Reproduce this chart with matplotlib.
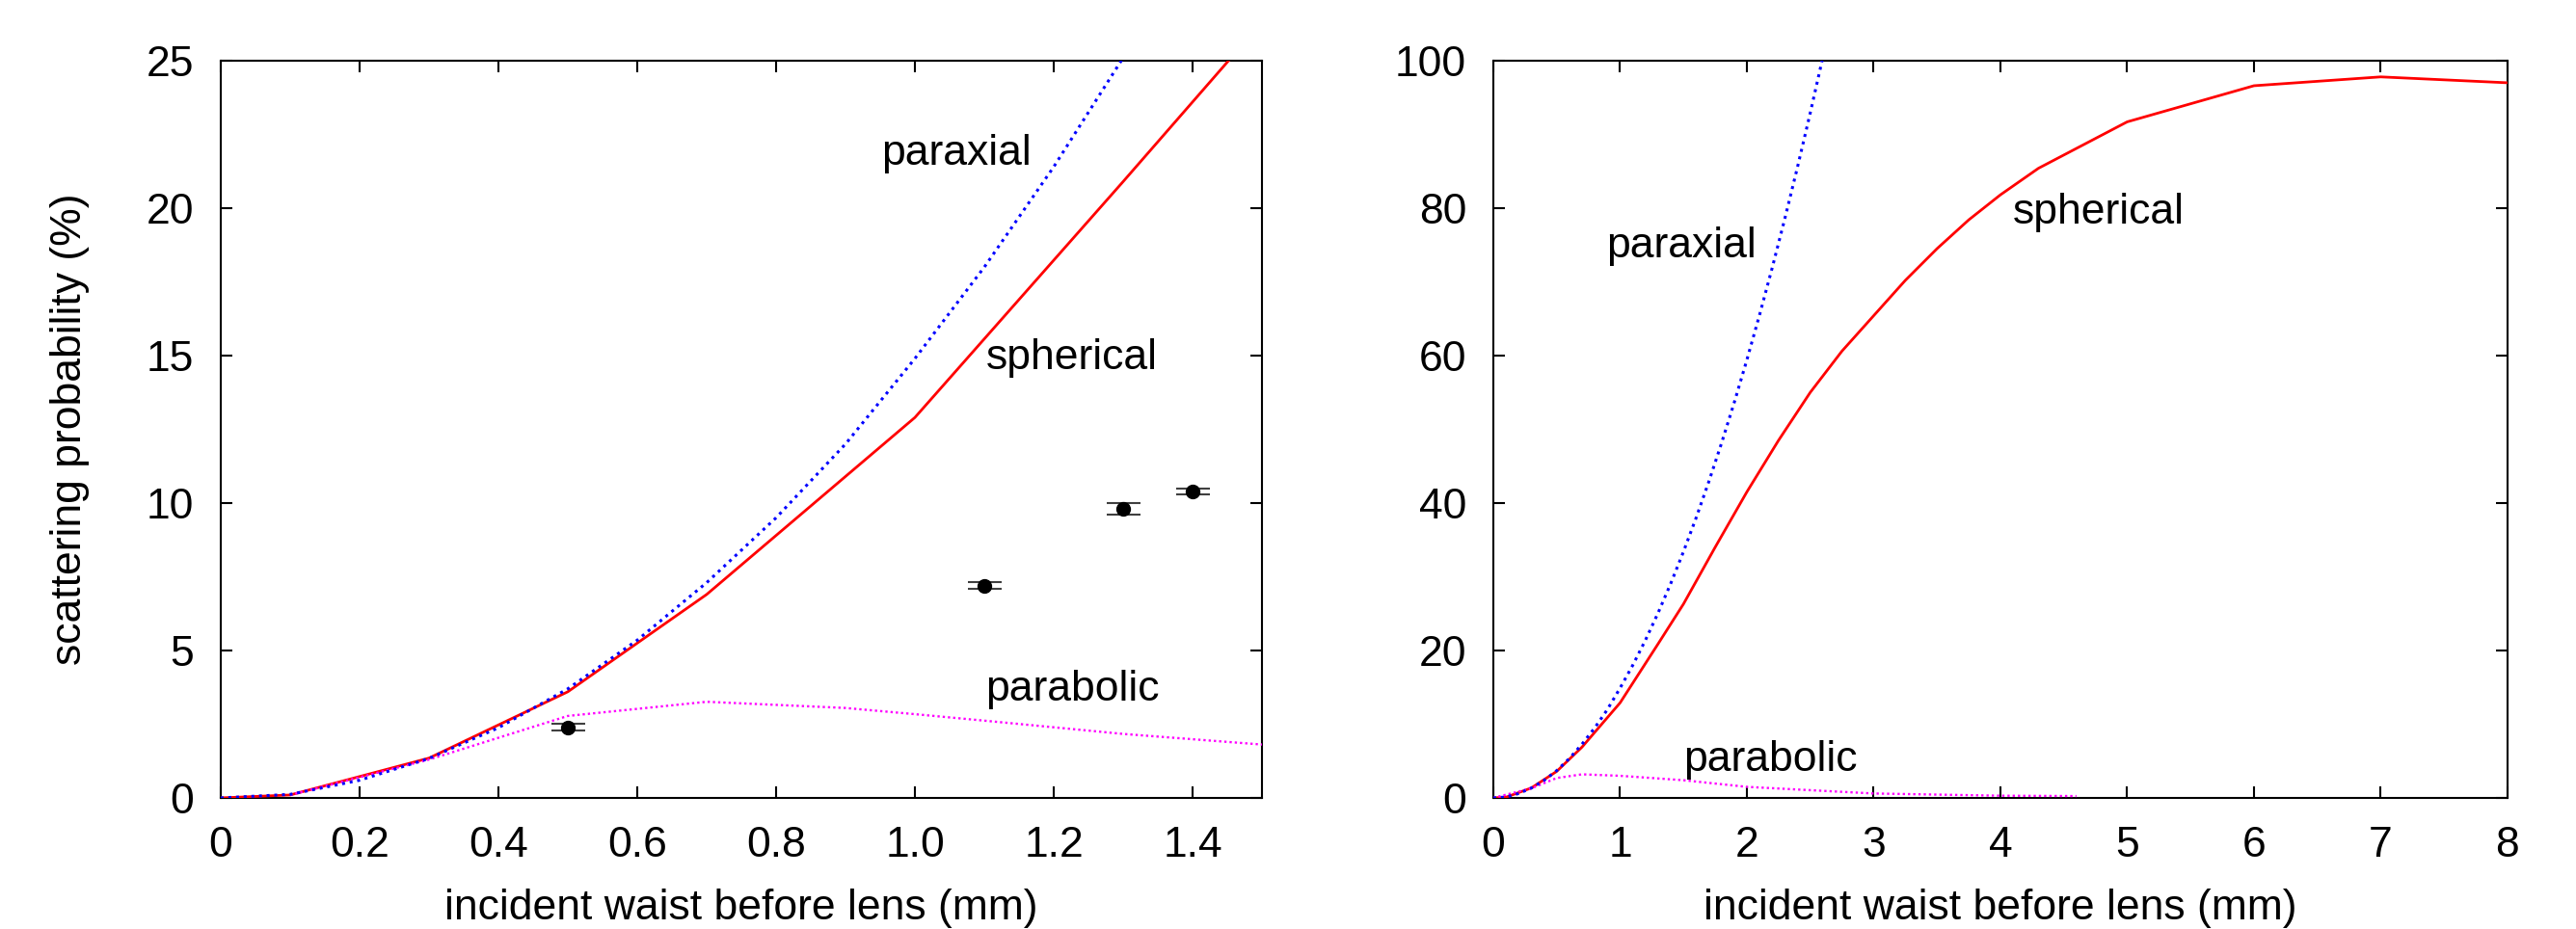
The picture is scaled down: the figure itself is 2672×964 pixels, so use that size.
import matplotlib
matplotlib.use('Agg')
import matplotlib.pyplot as plt

plt.rcParams['font.family'] = ['Liberation Sans', 'DejaVu Sans']
plt.rcParams['font.size'] = 32

# spherical lens (solid red)
sph_x = [0, 0.1, 0.3, 0.5, 0.7, 1.0, 1.3, 1.5, 1.75, 2.0, 2.25, 2.5, 2.75, 3.0,
         3.25, 3.5, 3.75, 4.0, 4.3, 5, 6, 7, 8]
sph_y = [0, 0.1, 1.35, 3.6, 6.9, 12.9, 20.9, 26.3, 34.0, 41.5, 48.5, 55.0, 60.6, 65.4,
         70.2, 74.5, 78.4, 81.8, 85.4, 91.7, 96.6, 97.8, 97.0]

# paraxial (blue dotted)
par_x = [0, 0.1, 0.2, 0.3, 0.4, 0.5, 0.6, 0.7, 0.8, 0.9, 1.0, 1.1, 1.2, 1.3,
         1.4, 1.5, 1.6, 1.7, 1.8, 1.9, 2.0, 2.1, 2.2, 2.3, 2.4, 2.5, 2.6, 2.7]
par_y = [0, 0.12, 0.6, 1.34, 2.38, 3.7, 5.35, 7.3, 9.5, 12.0, 14.9, 18.0, 21.4, 25.1,
         29.1, 33.4, 38.0, 42.9, 48.1, 53.6, 59.4, 65.5, 71.9, 78.6, 85.6, 92.9, 100.5, 108.3]

# parabolic mirror (magenta dotted), left and right panel
pab_x = [0.1, 0.3, 0.5, 0.7, 0.9, 1.0, 1.1, 1.3, 1.5]
pab_y = [0.1, 1.3, 2.78, 3.26, 3.05, 2.84, 2.62, 2.17, 1.81]
pab_x_wide = [0, 0.3, 0.5, 0.7, 1.0, 1.5, 2.0, 2.5, 3.0, 3.5, 4.0, 4.6]
pab_y_wide = [0, 1.3, 2.7, 3.2, 3.0, 2.4, 1.5, 1.05, 0.6, 0.45, 0.3, 0.25]

# measurements
meas_x = [0.5, 1.1, 1.3, 1.4]
meas_y = [2.4, 7.2, 9.8, 10.4]
meas_err = [0.1, 0.12, 0.2, 0.1]

fig = plt.figure(figsize=(26.72, 9.64), dpi=100)
ax1 = fig.add_axes([0.0857, 0.1411, 0.4042, 0.7936])
ax2 = fig.add_axes([0.5797, 0.1411, 0.3937, 0.7936])

blue_ls = (0, (1, 1.6))
mag_ls = (0, (1, 1.3))

for ax in (ax1, ax2):
    ax.plot(sph_x, sph_y, color='#ff0000', lw=2.0, zorder=3)
    ax.plot(par_x, par_y, color='#0000ff', lw=2.2, ls=blue_ls, zorder=4)
    ax.tick_params(direction='in', length=8.6, width=1.5, top=True, right=True)
    ax.tick_params(axis='y', pad=20)
    ax.tick_params(axis='x', pad=21)
    for s in ax.spines.values():
        s.set_linewidth(1.5)
    ax.set_xlabel('incident waist before lens (mm)')
    ax.xaxis.set_label_coords(0.5, -0.123)

ax1.plot(pab_x, pab_y, color='#ff00ff', lw=1.7, ls=mag_ls, zorder=3.5)
ax1.errorbar(meas_x, meas_y, yerr=meas_err, fmt='o', color='black', ms=10,
             ecolor='#404040', elinewidth=1.5, capsize=12.6, capthick=1.5, zorder=5)
ax1.set_xlim(0, 1.5)
ax1.set_ylim(0, 25)
ax1.set_xticks([0, 0.2, 0.4, 0.6, 0.8, 1.0, 1.2, 1.4])
ax1.set_xticklabels(['0', '0.2', '0.4', '0.6', '0.8', '1.0', '1.2', '1.4'])
ax1.set_yticks([0, 5, 10, 15, 20, 25])
ax1.set_ylabel('scattering probability (%)')
ax1.yaxis.set_label_coords(-0.126, 0.5)
ax1.text(0.951, 21.47, 'paraxial', ha='left', va='baseline')
ax1.text(1.102, 14.54, 'spherical', ha='left', va='baseline')
ax1.text(1.102, 3.30, 'parabolic', ha='left', va='baseline')

ax2.plot(pab_x_wide, pab_y_wide, color='#ff00ff', lw=1.7, ls=mag_ls, zorder=3.5)
ax2.set_xlim(0, 8)
ax2.set_ylim(0, 100)
ax2.set_xticks(range(0, 9))
ax2.set_yticks([0, 20, 40, 60, 80, 100])
ax2.text(0.89, 73.3, 'paraxial', ha='left', va='baseline')
ax2.text(4.10, 77.9, 'spherical', ha='left', va='baseline')
ax2.text(1.50, 3.66, 'parabolic', ha='left', va='baseline')

plt.savefig('out.png', dpi=100)
